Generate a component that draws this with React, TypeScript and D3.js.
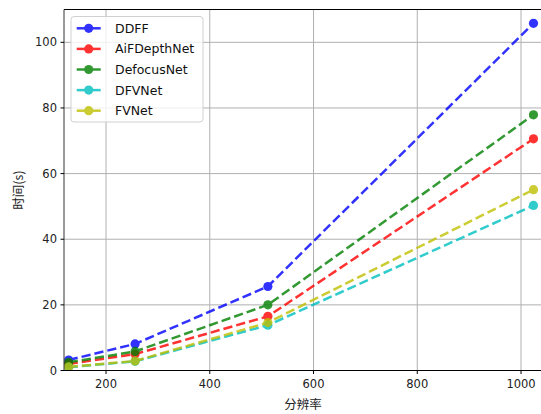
import React from "react";
import * as d3 from "d3";

const resolutions = [128, 256, 512, 1024];
const seriesNames = ["DDFF", "AiFDepthNet", "DefocusNet", "DFVNet", "FVNet"];
const ddff = [3.2, 8.1, 25.6, 105.8];
const aif = [2.0, 5.0, 16.5, 70.6];
const defocus = [2.5, 5.8, 20.0, 77.9];
const dfv = [1.0, 2.8, 13.8, 50.3];
const fv = [1.1, 2.9, 14.6, 55.1];
const seriesValues = [ddff, aif, defocus, dfv, fv];
const seriesColors = ["#0000ff", "#ff0000", "#008000", "#00bfbf", "#bfbf00"];
const xTicks = [200, 400, 600, 800, 1000];
const yTicks = [0, 20, 40, 60, 80, 100];

const W = 541;
const H = 414;
const left = 64;
const right = 541;
const top = 9.5;
const bottom = 370.5;
const font = "'DejaVu Sans', sans-serif";

export default function App() {
  const x = d3.scaleLinear().domain([119, 1038.5]).range([left, right]);
  const y = d3.scaleLinear().domain([0, 110]).range([bottom, top]);
  const line = d3
    .line<[number, number]>()
    .x((d) => x(d[0]))
    .y((d) => y(d[1]));

  return (
    <svg
      width={W}
      height={H}
      style={{ position: "absolute", left: 0, top: 0, background: "#fff" }}
      fontFamily={font}
    >
      <defs>
        <clipPath id="plot">
          <rect x={left} y={top - 6} width={right - left} height={bottom - top + 6} />
        </clipPath>
      </defs>
      {/* grid */}
      {xTicks.map((t) => (
        <line key={"gx" + t} x1={x(t)} x2={x(t)} y1={top} y2={bottom} stroke="#b0b0b0" strokeWidth={1} />
      ))}
      {yTicks.map((t) => (
        <line key={"gy" + t} x1={left} x2={right} y1={y(t)} y2={y(t)} stroke="#b0b0b0" strokeWidth={1} />
      ))}
      {/* series */}
      <g clipPath="url(#plot)">
        {seriesValues.map((vals, i) => {
          const pts = resolutions.map((r, j) => [r, vals[j]] as [number, number]);
          return (
            <g key={seriesNames[i]} opacity={0.8}>
              <path d={line(pts) || ""} fill="none" stroke={seriesColors[i]} strokeWidth={2.5} strokeDasharray="9.25,4" />
              {pts.map((p, j) => (
                <circle key={j} cx={x(p[0])} cy={y(p[1])} r={4.6} fill={seriesColors[i]} />
              ))}
            </g>
          );
        })}
      </g>
      {/* spines */}
      <line x1={left} x2={left} y1={top} y2={bottom} stroke="#333" strokeWidth={1} />
      <line x1={left} x2={right} y1={bottom} y2={bottom} stroke="#000" strokeWidth={1} />
      <line x1={left} x2={right} y1={top} y2={top} stroke="#000" strokeWidth={1} />
      {/* ticks */}
      {xTicks.map((t) => (
        <g key={"tx" + t}>
          <line x1={x(t)} x2={x(t)} y1={bottom} y2={bottom + 3.5} stroke="#000" />
          <text x={x(t)} y={bottom + 17} textAnchor="middle" fontSize={11.5} fill="#222">
            {t}
          </text>
        </g>
      ))}
      {yTicks.map((t) => (
        <g key={"ty" + t}>
          <line x1={left - 3.5} x2={left} y1={y(t)} y2={y(t)} stroke="#000" />
          <text x={left - 7} y={y(t) + 4} textAnchor="end" fontSize={11.5} fill="#222">
            {t}
          </text>
        </g>
      ))}
      {/* axis labels */}
      <text x={303} y={409} textAnchor="middle" fontSize={12.5} fill="#222" fontFamily="'Noto Sans CJK SC', sans-serif">
        分辨率
      </text>
      <text
        transform={`translate(23,${(top + bottom) / 2}) rotate(-90)`}
        textAnchor="middle"
        fontSize={12.5}
        fill="#222"
        fontFamily="'Noto Sans CJK SC', sans-serif"
      >
        时间(s)
      </text>
      {/* legend */}
      <g>
        <rect x={71} y={16.5} width={132} height={105.5} rx={3} fill="#fff" fillOpacity={0.8} stroke="#d0d0d0" />
        {seriesNames.map((n, i) => {
          const yy = 28.3 + i * 20.6;
          return (
            <g key={n}>
              <g opacity={0.8}>
                <line x1={76.7} x2={100.7} y1={yy} y2={yy} stroke={seriesColors[i]} strokeWidth={2.5} />
                <circle cx={88.7} cy={yy} r={4.6} fill={seriesColors[i]} />
              </g>
              <text x={115} y={yy + 4.5} fontSize={12.5} fill="#111">
                {n}
              </text>
            </g>
          );
        })}
      </g>
    </svg>
  );
}
